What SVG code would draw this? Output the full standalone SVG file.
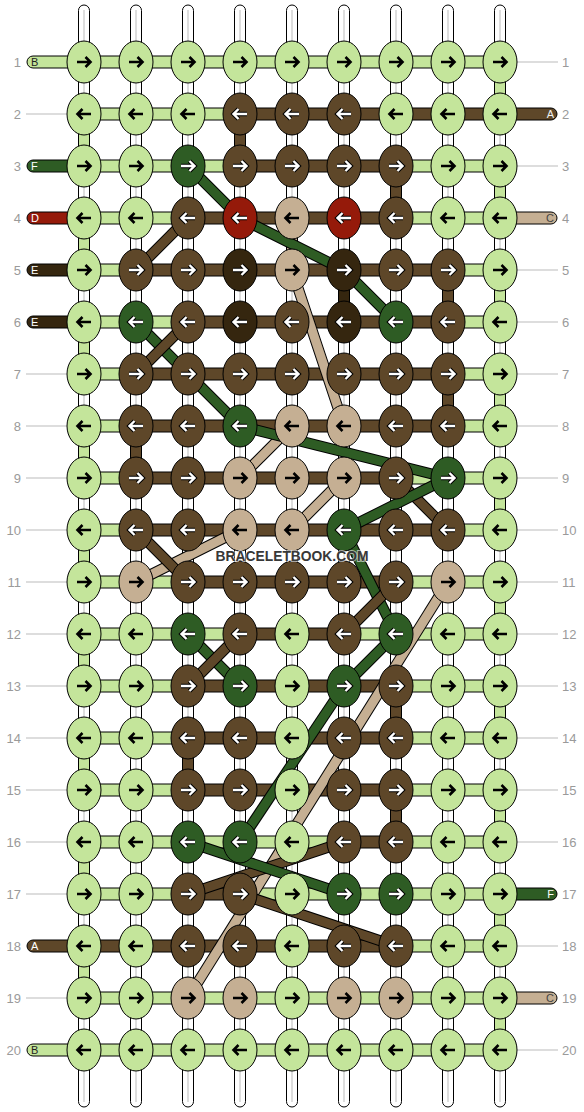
<svg xmlns="http://www.w3.org/2000/svg" width="584" height="1112" viewBox="0 0 584 1112">
<style>
.g{fill:#c4e59b}.f{fill:#2e5c24}.a{fill:#5e4729}.e{fill:#35260f}.d{fill:#951a0a}.t{fill:#c5af93}.w{fill:#fff}
.cn{stroke:#000;stroke-width:1}
.gl{stroke:#bbb;stroke-width:1;fill:none}
.dl{fill:none;stroke:#000;stroke-width:11}
.df{fill:none;stroke:#2e5c24;stroke-width:9}
.da{fill:none;stroke:#5e4729;stroke-width:9}
.dt{fill:none;stroke:#c5af93;stroke-width:9}
.num{font-family:'Liberation Sans',Arial,sans-serif;font-size:13px;fill:#9a9a9a}
.sl{font-family:'Liberation Sans',Arial,sans-serif;font-size:11px}
.wm{font-family:'Liberation Sans',Arial,sans-serif;font-size:14.5px;font-weight:bold;fill:#383838;stroke:#fff;stroke-width:2;stroke-opacity:.6;paint-order:stroke}
</style>
<defs>
<ellipse id="kn" cx="0" cy="0" rx="17" ry="21" stroke="#000" stroke-width="1"/>
<path id="pr" d="M-7 0H6M1.5-5L6.5 0L1.5 5"/>
<path id="pl" d="M7 0H-6M-1.5-5L-6.5 0L-1.5 5"/>
<g id="rb"><use href="#pr" fill="none" stroke="#000" stroke-width="2.6"/></g>
<g id="lb"><use href="#pl" fill="none" stroke="#000" stroke-width="2.6"/></g>
<g id="rw"><use href="#pr" fill="none" stroke="#000" stroke-width="4.4"/><use href="#pr" fill="none" stroke="#fff" stroke-width="2.4"/></g>
<g id="lw"><use href="#pl" fill="none" stroke="#000" stroke-width="4.4"/><use href="#pl" fill="none" stroke="#fff" stroke-width="2.4"/></g>
</defs>
<rect width="584" height="1112" fill="#fff"/>
<g id="strings">
<rect class="w cn" x="78.5" y="5" width="11" height="1102" rx="5.5"/><line class="gl" x1="84" y1="10" x2="84" y2="1102"/>
<rect class="w cn" x="130.5" y="5" width="11" height="1102" rx="5.5"/><line class="gl" x1="136" y1="10" x2="136" y2="1102"/>
<rect class="w cn" x="182.5" y="5" width="11" height="1102" rx="5.5"/><line class="gl" x1="188" y1="10" x2="188" y2="1102"/>
<rect class="w cn" x="234.5" y="5" width="11" height="1102" rx="5.5"/><line class="gl" x1="240" y1="10" x2="240" y2="1102"/>
<rect class="w cn" x="286.5" y="5" width="11" height="1102" rx="5.5"/><line class="gl" x1="292" y1="10" x2="292" y2="1102"/>
<rect class="w cn" x="338.5" y="5" width="11" height="1102" rx="5.5"/><line class="gl" x1="344" y1="10" x2="344" y2="1102"/>
<rect class="w cn" x="390.5" y="5" width="11" height="1102" rx="5.5"/><line class="gl" x1="396" y1="10" x2="396" y2="1102"/>
<rect class="w cn" x="442.5" y="5" width="11" height="1102" rx="5.5"/><line class="gl" x1="448" y1="10" x2="448" y2="1102"/>
<rect class="w cn" x="494.5" y="5" width="11" height="1102" rx="5.5"/><line class="gl" x1="500" y1="10" x2="500" y2="1102"/>
</g>
<g id="connectors">
<!-- vertical coloured -->
<rect class="g cn" x="78.5" y="114" width="11" height="52"/>
<rect class="g cn" x="78.5" y="218" width="11" height="52"/>
<rect class="g cn" x="78.5" y="322" width="11" height="52"/>
<rect class="g cn" x="78.5" y="426" width="11" height="52"/>
<rect class="g cn" x="78.5" y="530" width="11" height="52"/>
<rect class="g cn" x="78.5" y="634" width="11" height="52"/>
<rect class="g cn" x="78.5" y="738" width="11" height="52"/>
<rect class="g cn" x="78.5" y="842" width="11" height="52"/>
<rect class="g cn" x="78.5" y="946" width="11" height="52"/>
<rect class="g cn" x="494.5" y="62" width="11" height="52"/>
<rect class="g cn" x="494.5" y="166" width="11" height="52"/>
<rect class="g cn" x="494.5" y="270" width="11" height="52"/>
<rect class="g cn" x="494.5" y="374" width="11" height="52"/>
<rect class="g cn" x="494.5" y="478" width="11" height="52"/>
<rect class="g cn" x="494.5" y="582" width="11" height="52"/>
<rect class="g cn" x="494.5" y="686" width="11" height="52"/>
<rect class="g cn" x="494.5" y="790" width="11" height="52"/>
<rect class="g cn" x="494.5" y="894" width="11" height="52"/>
<rect class="g cn" x="494.5" y="998" width="11" height="52"/>
<rect class="a cn" x="234.5" y="114" width="11" height="52"/>
<rect class="a cn" x="390.5" y="166" width="11" height="52"/>
<rect class="t cn" x="286.5" y="218" width="11" height="52"/>
<rect class="e cn" x="338.5" y="270" width="11" height="52"/>
<rect class="a cn" x="442.5" y="270" width="11" height="52"/>
<rect class="a cn" x="442.5" y="374" width="11" height="52"/>
<rect class="a cn" x="130.5" y="426" width="11" height="52"/>
<rect class="a cn" x="390.5" y="686" width="11" height="52"/>
<rect class="a cn" x="182.5" y="738" width="11" height="52"/>
<rect class="a cn" x="390.5" y="790" width="11" height="52"/>
<!-- horizontal -->
<rect class="g cn" x="84" y="56" width="416" height="12"/>
<rect class="g cn" x="84" y="108" width="156" height="12"/><rect class="a cn" x="240" y="108" width="260" height="12"/>
<rect class="g cn" x="84" y="160" width="156" height="12"/><rect class="a cn" x="240" y="160" width="156" height="12"/><rect class="g cn" x="396" y="160" width="104" height="12"/>
<rect class="g cn" x="84" y="212" width="104" height="12"/><rect class="a cn" x="188" y="212" width="208" height="12"/><rect class="g cn" x="396" y="212" width="104" height="12"/>
<rect class="g cn" x="84" y="264" width="52" height="12"/><rect class="a cn" x="136" y="264" width="312" height="12"/><rect class="g cn" x="448" y="264" width="52" height="12"/>
<rect class="g cn" x="84" y="316" width="104" height="12"/><rect class="a cn" x="188" y="316" width="260" height="12"/><rect class="g cn" x="448" y="316" width="52" height="12"/>
<rect class="g cn" x="84" y="368" width="52" height="12"/><rect class="a cn" x="136" y="368" width="312" height="12"/><rect class="g cn" x="448" y="368" width="52" height="12"/>
<rect class="g cn" x="84" y="420" width="52" height="12"/><rect class="a cn" x="136" y="420" width="312" height="12"/><rect class="g cn" x="448" y="420" width="52" height="12"/>
<rect class="g cn" x="84" y="472" width="52" height="12"/><rect class="a cn" x="136" y="472" width="260" height="12"/><rect class="g cn" x="396" y="472" width="104" height="12"/>
<rect class="g cn" x="84" y="524" width="52" height="12"/><rect class="a cn" x="136" y="524" width="312" height="12"/><rect class="g cn" x="448" y="524" width="52" height="12"/>
<rect class="g cn" x="84" y="576" width="104" height="12"/><rect class="a cn" x="188" y="576" width="208" height="12"/><rect class="g cn" x="396" y="576" width="104" height="12"/>
<rect class="g cn" x="84" y="628" width="156" height="12"/><rect class="a cn" x="240" y="628" width="104" height="12"/><rect class="g cn" x="344" y="628" width="156" height="12"/>
<rect class="g cn" x="84" y="680" width="104" height="12"/><rect class="a cn" x="188" y="680" width="208" height="12"/><rect class="g cn" x="396" y="680" width="104" height="12"/>
<rect class="g cn" x="84" y="732" width="104" height="12"/><rect class="a cn" x="188" y="732" width="208" height="12"/><rect class="g cn" x="396" y="732" width="104" height="12"/>
<rect class="g cn" x="84" y="784" width="104" height="12"/><rect class="a cn" x="188" y="784" width="208" height="12"/><rect class="g cn" x="396" y="784" width="104" height="12"/>
<rect class="g cn" x="84" y="836" width="260" height="12"/><rect class="a cn" x="344" y="836" width="52" height="12"/><rect class="g cn" x="396" y="836" width="104" height="12"/>
<rect class="g cn" x="84" y="888" width="104" height="12"/><rect class="a cn" x="188" y="888" width="52" height="12"/><rect class="g cn" x="240" y="888" width="260" height="12"/>
<rect class="a cn" x="84" y="940" width="312" height="12"/><rect class="g cn" x="396" y="940" width="104" height="12"/>
<rect class="g cn" x="84" y="992" width="416" height="12"/>
<rect class="g cn" x="84" y="1044" width="416" height="12"/>
<!-- stubs -->
<rect class="g cn" x="27" y="56" width="60" height="12" rx="6"/>
<rect class="f cn" x="27" y="160" width="60" height="12" rx="6"/>
<rect class="d cn" x="27" y="212" width="60" height="12" rx="6"/>
<rect class="e cn" x="27" y="264" width="60" height="12" rx="6"/>
<rect class="e cn" x="27" y="316" width="60" height="12" rx="6"/>
<rect class="a cn" x="27" y="940" width="60" height="12" rx="6"/>
<rect class="g cn" x="27" y="1044" width="60" height="12" rx="6"/>
<rect class="a cn" x="497" y="108" width="60" height="12" rx="6"/>
<rect class="t cn" x="497" y="212" width="60" height="12" rx="6"/>
<rect class="f cn" x="497" y="888" width="60" height="12" rx="6"/>
<rect class="t cn" x="497" y="992" width="60" height="12" rx="6"/>
<!-- diagonals -->
<path class="dl" d="M448 582L188 998"/><path class="dt" d="M448 582L188 998"/>
<path class="dl" d="M292 270L344 426"/><path class="dt" d="M292 270L344 426"/>
<path class="dl" d="M292 426L240 478"/><path class="dt" d="M292 426L240 478"/>
<path class="dl" d="M344 478L292 530"/><path class="dt" d="M344 478L292 530"/>
<path class="dl" d="M240 530L136 582"/><path class="dt" d="M240 530L136 582"/>
<path class="dl" d="M188 218L136 270"/><path class="da" d="M188 218L136 270"/>
<path class="dl" d="M188 166L240 218L344 270L396 322"/><path class="df" d="M188 166L240 218L344 270L396 322"/>
<path class="dl" d="M136 322L240 426"/><path class="df" d="M136 322L240 426"/>
<path class="dl" d="M188 322L136 374"/><path class="da" d="M188 322L136 374"/>
<path class="dl" d="M240 426L448 478"/><path class="df" d="M240 426L448 478"/>
<path class="dl" d="M396 478L448 530"/><path class="da" d="M396 478L448 530"/>
<path class="dl" d="M448 478L344 530"/><path class="df" d="M448 478L344 530"/>
<path class="dl" d="M136 530L188 582"/><path class="da" d="M136 530L188 582"/>
<path class="dl" d="M344 530L396 634"/><path class="df" d="M344 530L396 634"/>
<path class="dl" d="M396 582L344 634"/><path class="da" d="M396 582L344 634"/>
<path class="dl" d="M396 634L344 686"/><path class="df" d="M396 634L344 686"/>
<path class="dl" d="M188 634L240 686"/><path class="df" d="M188 634L240 686"/>
<path class="dl" d="M240 634L188 686"/><path class="da" d="M240 634L188 686"/>
<path class="dl" d="M344 686L240 842"/><path class="df" d="M344 686L240 842"/>
<path class="dl" d="M188 894L344 842"/><path class="da" d="M188 894L344 842"/>
<path class="dl" d="M188 842L344 894"/><path class="df" d="M188 842L344 894"/>
<path class="dl" d="M240 894L396 946"/><path class="da" d="M240 894L396 946"/>
</g>
<g id="labels">
<line class="gl" x1="26" y1="114" x2="67" y2="114"/><line class="gl" x1="26" y1="374" x2="67" y2="374"/><line class="gl" x1="26" y1="426" x2="67" y2="426"/><line class="gl" x1="26" y1="478" x2="67" y2="478"/><line class="gl" x1="26" y1="530" x2="67" y2="530"/><line class="gl" x1="26" y1="582" x2="67" y2="582"/><line class="gl" x1="26" y1="634" x2="67" y2="634"/><line class="gl" x1="26" y1="686" x2="67" y2="686"/><line class="gl" x1="26" y1="738" x2="67" y2="738"/><line class="gl" x1="26" y1="790" x2="67" y2="790"/><line class="gl" x1="26" y1="842" x2="67" y2="842"/><line class="gl" x1="26" y1="894" x2="67" y2="894"/><line class="gl" x1="26" y1="998" x2="67" y2="998"/>
<line class="gl" x1="517" y1="62" x2="558" y2="62"/><line class="gl" x1="517" y1="166" x2="558" y2="166"/><line class="gl" x1="517" y1="270" x2="558" y2="270"/><line class="gl" x1="517" y1="322" x2="558" y2="322"/><line class="gl" x1="517" y1="374" x2="558" y2="374"/><line class="gl" x1="517" y1="426" x2="558" y2="426"/><line class="gl" x1="517" y1="478" x2="558" y2="478"/><line class="gl" x1="517" y1="530" x2="558" y2="530"/><line class="gl" x1="517" y1="582" x2="558" y2="582"/><line class="gl" x1="517" y1="634" x2="558" y2="634"/><line class="gl" x1="517" y1="686" x2="558" y2="686"/><line class="gl" x1="517" y1="738" x2="558" y2="738"/><line class="gl" x1="517" y1="790" x2="558" y2="790"/><line class="gl" x1="517" y1="842" x2="558" y2="842"/><line class="gl" x1="517" y1="946" x2="558" y2="946"/><line class="gl" x1="517" y1="1050" x2="558" y2="1050"/>
<text class="sl" x="31" y="66" fill="#222">B</text>
<text class="sl" x="31" y="170" fill="#fff">F</text>
<text class="sl" x="31" y="222" fill="#fff">D</text>
<text class="sl" x="31" y="274" fill="#fff">E</text>
<text class="sl" x="31" y="326" fill="#fff">E</text>
<text class="sl" x="31" y="950" fill="#fff">A</text>
<text class="sl" x="31" y="1054" fill="#222">B</text>
<text class="sl" x="554" y="118" fill="#eee" text-anchor="end">A</text>
<text class="sl" x="554" y="222" fill="#444" text-anchor="end">C</text>
<text class="sl" x="554" y="898" fill="#fff" text-anchor="end">F</text>
<text class="sl" x="554" y="1002" fill="#444" text-anchor="end">C</text>
<g class="num" text-anchor="end">
<text x="21" y="67">1</text><text x="21" y="119">2</text><text x="21" y="171">3</text><text x="21" y="223">4</text><text x="21" y="275">5</text><text x="21" y="327">6</text><text x="21" y="379">7</text><text x="21" y="431">8</text><text x="21" y="483">9</text><text x="21" y="535">10</text><text x="21" y="587">11</text><text x="21" y="639">12</text><text x="21" y="691">13</text><text x="21" y="743">14</text><text x="21" y="795">15</text><text x="21" y="847">16</text><text x="21" y="899">17</text><text x="21" y="951">18</text><text x="21" y="1003">19</text><text x="21" y="1055">20</text>
</g>
<g class="num">
<text x="562" y="67">1</text><text x="562" y="119">2</text><text x="562" y="171">3</text><text x="562" y="223">4</text><text x="562" y="275">5</text><text x="562" y="327">6</text><text x="562" y="379">7</text><text x="562" y="431">8</text><text x="562" y="483">9</text><text x="562" y="535">10</text><text x="562" y="587">11</text><text x="562" y="639">12</text><text x="562" y="691">13</text><text x="562" y="743">14</text><text x="562" y="795">15</text><text x="562" y="847">16</text><text x="562" y="899">17</text><text x="562" y="951">18</text><text x="562" y="1003">19</text><text x="562" y="1055">20</text>
</g>
</g>
<g id="knots">
<g id="k1-1"><use href="#kn" class="g" x="84" y="62"/><use href="#rb" x="84" y="62"/></g>
<g id="k1-2"><use href="#kn" class="g" x="136" y="62"/><use href="#rb" x="136" y="62"/></g>
<g id="k1-3"><use href="#kn" class="g" x="188" y="62"/><use href="#rb" x="188" y="62"/></g>
<g id="k1-4"><use href="#kn" class="g" x="240" y="62"/><use href="#rb" x="240" y="62"/></g>
<g id="k1-5"><use href="#kn" class="g" x="292" y="62"/><use href="#rb" x="292" y="62"/></g>
<g id="k1-6"><use href="#kn" class="g" x="344" y="62"/><use href="#rb" x="344" y="62"/></g>
<g id="k1-7"><use href="#kn" class="g" x="396" y="62"/><use href="#rb" x="396" y="62"/></g>
<g id="k1-8"><use href="#kn" class="g" x="448" y="62"/><use href="#rb" x="448" y="62"/></g>
<g id="k1-9"><use href="#kn" class="g" x="500" y="62"/><use href="#rb" x="500" y="62"/></g>
<g id="k2-1"><use href="#kn" class="g" x="84" y="114"/><use href="#lb" x="84" y="114"/></g>
<g id="k2-2"><use href="#kn" class="g" x="136" y="114"/><use href="#lb" x="136" y="114"/></g>
<g id="k2-3"><use href="#kn" class="g" x="188" y="114"/><use href="#lb" x="188" y="114"/></g>
<g id="k2-4"><use href="#kn" class="a" x="240" y="114"/><use href="#lw" x="240" y="114"/></g>
<g id="k2-5"><use href="#kn" class="a" x="292" y="114"/><use href="#lw" x="292" y="114"/></g>
<g id="k2-6"><use href="#kn" class="a" x="344" y="114"/><use href="#lw" x="344" y="114"/></g>
<g id="k2-7"><use href="#kn" class="g" x="396" y="114"/><use href="#lb" x="396" y="114"/></g>
<g id="k2-8"><use href="#kn" class="g" x="448" y="114"/><use href="#lb" x="448" y="114"/></g>
<g id="k2-9"><use href="#kn" class="g" x="500" y="114"/><use href="#lb" x="500" y="114"/></g>
<g id="k3-1"><use href="#kn" class="g" x="84" y="166"/><use href="#rb" x="84" y="166"/></g>
<g id="k3-2"><use href="#kn" class="g" x="136" y="166"/><use href="#rb" x="136" y="166"/></g>
<g id="k3-3"><use href="#kn" class="f" x="188" y="166"/><use href="#rw" x="188" y="166"/></g>
<g id="k3-4"><use href="#kn" class="a" x="240" y="166"/><use href="#rw" x="240" y="166"/></g>
<g id="k3-5"><use href="#kn" class="a" x="292" y="166"/><use href="#rw" x="292" y="166"/></g>
<g id="k3-6"><use href="#kn" class="a" x="344" y="166"/><use href="#rw" x="344" y="166"/></g>
<g id="k3-7"><use href="#kn" class="a" x="396" y="166"/><use href="#rw" x="396" y="166"/></g>
<g id="k3-8"><use href="#kn" class="g" x="448" y="166"/><use href="#rb" x="448" y="166"/></g>
<g id="k3-9"><use href="#kn" class="g" x="500" y="166"/><use href="#rb" x="500" y="166"/></g>
<g id="k4-1"><use href="#kn" class="g" x="84" y="218"/><use href="#lb" x="84" y="218"/></g>
<g id="k4-2"><use href="#kn" class="g" x="136" y="218"/><use href="#lb" x="136" y="218"/></g>
<g id="k4-3"><use href="#kn" class="a" x="188" y="218"/><use href="#lw" x="188" y="218"/></g>
<g id="k4-4"><use href="#kn" class="d" x="240" y="218"/><use href="#lw" x="240" y="218"/></g>
<g id="k4-5"><use href="#kn" class="t" x="292" y="218"/><use href="#lb" x="292" y="218"/></g>
<g id="k4-6"><use href="#kn" class="d" x="344" y="218"/><use href="#lw" x="344" y="218"/></g>
<g id="k4-7"><use href="#kn" class="a" x="396" y="218"/><use href="#lw" x="396" y="218"/></g>
<g id="k4-8"><use href="#kn" class="g" x="448" y="218"/><use href="#lb" x="448" y="218"/></g>
<g id="k4-9"><use href="#kn" class="g" x="500" y="218"/><use href="#lb" x="500" y="218"/></g>
<g id="k5-1"><use href="#kn" class="g" x="84" y="270"/><use href="#rb" x="84" y="270"/></g>
<g id="k5-2"><use href="#kn" class="a" x="136" y="270"/><use href="#rw" x="136" y="270"/></g>
<g id="k5-3"><use href="#kn" class="a" x="188" y="270"/><use href="#rw" x="188" y="270"/></g>
<g id="k5-4"><use href="#kn" class="e" x="240" y="270"/><use href="#rw" x="240" y="270"/></g>
<g id="k5-5"><use href="#kn" class="t" x="292" y="270"/><use href="#rb" x="292" y="270"/></g>
<g id="k5-6"><use href="#kn" class="e" x="344" y="270"/><use href="#rw" x="344" y="270"/></g>
<g id="k5-7"><use href="#kn" class="a" x="396" y="270"/><use href="#rw" x="396" y="270"/></g>
<g id="k5-8"><use href="#kn" class="a" x="448" y="270"/><use href="#rw" x="448" y="270"/></g>
<g id="k5-9"><use href="#kn" class="g" x="500" y="270"/><use href="#rb" x="500" y="270"/></g>
<g id="k6-1"><use href="#kn" class="g" x="84" y="322"/><use href="#lb" x="84" y="322"/></g>
<g id="k6-2"><use href="#kn" class="f" x="136" y="322"/><use href="#lw" x="136" y="322"/></g>
<g id="k6-3"><use href="#kn" class="a" x="188" y="322"/><use href="#lw" x="188" y="322"/></g>
<g id="k6-4"><use href="#kn" class="e" x="240" y="322"/><use href="#lw" x="240" y="322"/></g>
<g id="k6-5"><use href="#kn" class="a" x="292" y="322"/><use href="#lw" x="292" y="322"/></g>
<g id="k6-6"><use href="#kn" class="e" x="344" y="322"/><use href="#lw" x="344" y="322"/></g>
<g id="k6-7"><use href="#kn" class="f" x="396" y="322"/><use href="#lw" x="396" y="322"/></g>
<g id="k6-8"><use href="#kn" class="a" x="448" y="322"/><use href="#lw" x="448" y="322"/></g>
<g id="k6-9"><use href="#kn" class="g" x="500" y="322"/><use href="#lb" x="500" y="322"/></g>
<g id="k7-1"><use href="#kn" class="g" x="84" y="374"/><use href="#rb" x="84" y="374"/></g>
<g id="k7-2"><use href="#kn" class="a" x="136" y="374"/><use href="#rw" x="136" y="374"/></g>
<g id="k7-3"><use href="#kn" class="a" x="188" y="374"/><use href="#rw" x="188" y="374"/></g>
<g id="k7-4"><use href="#kn" class="a" x="240" y="374"/><use href="#rw" x="240" y="374"/></g>
<g id="k7-5"><use href="#kn" class="a" x="292" y="374"/><use href="#rw" x="292" y="374"/></g>
<g id="k7-6"><use href="#kn" class="a" x="344" y="374"/><use href="#rw" x="344" y="374"/></g>
<g id="k7-7"><use href="#kn" class="a" x="396" y="374"/><use href="#rw" x="396" y="374"/></g>
<g id="k7-8"><use href="#kn" class="a" x="448" y="374"/><use href="#rw" x="448" y="374"/></g>
<g id="k7-9"><use href="#kn" class="g" x="500" y="374"/><use href="#rb" x="500" y="374"/></g>
<g id="k8-1"><use href="#kn" class="g" x="84" y="426"/><use href="#lb" x="84" y="426"/></g>
<g id="k8-2"><use href="#kn" class="a" x="136" y="426"/><use href="#lw" x="136" y="426"/></g>
<g id="k8-3"><use href="#kn" class="a" x="188" y="426"/><use href="#lw" x="188" y="426"/></g>
<g id="k8-4"><use href="#kn" class="f" x="240" y="426"/><use href="#lw" x="240" y="426"/></g>
<g id="k8-5"><use href="#kn" class="t" x="292" y="426"/><use href="#lb" x="292" y="426"/></g>
<g id="k8-6"><use href="#kn" class="t" x="344" y="426"/><use href="#lb" x="344" y="426"/></g>
<g id="k8-7"><use href="#kn" class="a" x="396" y="426"/><use href="#lw" x="396" y="426"/></g>
<g id="k8-8"><use href="#kn" class="a" x="448" y="426"/><use href="#lw" x="448" y="426"/></g>
<g id="k8-9"><use href="#kn" class="g" x="500" y="426"/><use href="#lb" x="500" y="426"/></g>
<g id="k9-1"><use href="#kn" class="g" x="84" y="478"/><use href="#rb" x="84" y="478"/></g>
<g id="k9-2"><use href="#kn" class="a" x="136" y="478"/><use href="#rw" x="136" y="478"/></g>
<g id="k9-3"><use href="#kn" class="a" x="188" y="478"/><use href="#rw" x="188" y="478"/></g>
<g id="k9-4"><use href="#kn" class="t" x="240" y="478"/><use href="#rb" x="240" y="478"/></g>
<g id="k9-5"><use href="#kn" class="t" x="292" y="478"/><use href="#rb" x="292" y="478"/></g>
<g id="k9-6"><use href="#kn" class="t" x="344" y="478"/><use href="#rb" x="344" y="478"/></g>
<g id="k9-7"><use href="#kn" class="a" x="396" y="478"/><use href="#rw" x="396" y="478"/></g>
<g id="k9-8"><use href="#kn" class="f" x="448" y="478"/><use href="#rw" x="448" y="478"/></g>
<g id="k9-9"><use href="#kn" class="g" x="500" y="478"/><use href="#rb" x="500" y="478"/></g>
<g id="k10-1"><use href="#kn" class="g" x="84" y="530"/><use href="#lb" x="84" y="530"/></g>
<g id="k10-2"><use href="#kn" class="a" x="136" y="530"/><use href="#lw" x="136" y="530"/></g>
<g id="k10-3"><use href="#kn" class="a" x="188" y="530"/><use href="#lw" x="188" y="530"/></g>
<g id="k10-4"><use href="#kn" class="t" x="240" y="530"/><use href="#lb" x="240" y="530"/></g>
<g id="k10-5"><use href="#kn" class="t" x="292" y="530"/><use href="#lb" x="292" y="530"/></g>
<g id="k10-6"><use href="#kn" class="f" x="344" y="530"/><use href="#lw" x="344" y="530"/></g>
<g id="k10-7"><use href="#kn" class="a" x="396" y="530"/><use href="#lw" x="396" y="530"/></g>
<g id="k10-8"><use href="#kn" class="a" x="448" y="530"/><use href="#lw" x="448" y="530"/></g>
<g id="k10-9"><use href="#kn" class="g" x="500" y="530"/><use href="#lb" x="500" y="530"/></g>
<g id="k11-1"><use href="#kn" class="g" x="84" y="582"/><use href="#rb" x="84" y="582"/></g>
<g id="k11-2"><use href="#kn" class="t" x="136" y="582"/><use href="#rb" x="136" y="582"/></g>
<g id="k11-3"><use href="#kn" class="a" x="188" y="582"/><use href="#rw" x="188" y="582"/></g>
<g id="k11-4"><use href="#kn" class="a" x="240" y="582"/><use href="#rw" x="240" y="582"/></g>
<g id="k11-5"><use href="#kn" class="a" x="292" y="582"/><use href="#rw" x="292" y="582"/></g>
<g id="k11-6"><use href="#kn" class="a" x="344" y="582"/><use href="#rw" x="344" y="582"/></g>
<g id="k11-7"><use href="#kn" class="a" x="396" y="582"/><use href="#rw" x="396" y="582"/></g>
<g id="k11-8"><use href="#kn" class="t" x="448" y="582"/><use href="#rb" x="448" y="582"/></g>
<g id="k11-9"><use href="#kn" class="g" x="500" y="582"/><use href="#rb" x="500" y="582"/></g>
<g id="k12-1"><use href="#kn" class="g" x="84" y="634"/><use href="#lb" x="84" y="634"/></g>
<g id="k12-2"><use href="#kn" class="g" x="136" y="634"/><use href="#lb" x="136" y="634"/></g>
<g id="k12-3"><use href="#kn" class="f" x="188" y="634"/><use href="#lw" x="188" y="634"/></g>
<g id="k12-4"><use href="#kn" class="a" x="240" y="634"/><use href="#lw" x="240" y="634"/></g>
<g id="k12-5"><use href="#kn" class="g" x="292" y="634"/><use href="#lb" x="292" y="634"/></g>
<g id="k12-6"><use href="#kn" class="a" x="344" y="634"/><use href="#lw" x="344" y="634"/></g>
<g id="k12-7"><use href="#kn" class="f" x="396" y="634"/><use href="#lw" x="396" y="634"/></g>
<g id="k12-8"><use href="#kn" class="g" x="448" y="634"/><use href="#lb" x="448" y="634"/></g>
<g id="k12-9"><use href="#kn" class="g" x="500" y="634"/><use href="#lb" x="500" y="634"/></g>
<g id="k13-1"><use href="#kn" class="g" x="84" y="686"/><use href="#rb" x="84" y="686"/></g>
<g id="k13-2"><use href="#kn" class="g" x="136" y="686"/><use href="#rb" x="136" y="686"/></g>
<g id="k13-3"><use href="#kn" class="a" x="188" y="686"/><use href="#rw" x="188" y="686"/></g>
<g id="k13-4"><use href="#kn" class="f" x="240" y="686"/><use href="#rw" x="240" y="686"/></g>
<g id="k13-5"><use href="#kn" class="g" x="292" y="686"/><use href="#rb" x="292" y="686"/></g>
<g id="k13-6"><use href="#kn" class="f" x="344" y="686"/><use href="#rw" x="344" y="686"/></g>
<g id="k13-7"><use href="#kn" class="a" x="396" y="686"/><use href="#rw" x="396" y="686"/></g>
<g id="k13-8"><use href="#kn" class="g" x="448" y="686"/><use href="#rb" x="448" y="686"/></g>
<g id="k13-9"><use href="#kn" class="g" x="500" y="686"/><use href="#rb" x="500" y="686"/></g>
<g id="k14-1"><use href="#kn" class="g" x="84" y="738"/><use href="#lb" x="84" y="738"/></g>
<g id="k14-2"><use href="#kn" class="g" x="136" y="738"/><use href="#lb" x="136" y="738"/></g>
<g id="k14-3"><use href="#kn" class="a" x="188" y="738"/><use href="#lw" x="188" y="738"/></g>
<g id="k14-4"><use href="#kn" class="a" x="240" y="738"/><use href="#lw" x="240" y="738"/></g>
<g id="k14-5"><use href="#kn" class="g" x="292" y="738"/><use href="#lb" x="292" y="738"/></g>
<g id="k14-6"><use href="#kn" class="a" x="344" y="738"/><use href="#lw" x="344" y="738"/></g>
<g id="k14-7"><use href="#kn" class="a" x="396" y="738"/><use href="#lw" x="396" y="738"/></g>
<g id="k14-8"><use href="#kn" class="g" x="448" y="738"/><use href="#lb" x="448" y="738"/></g>
<g id="k14-9"><use href="#kn" class="g" x="500" y="738"/><use href="#lb" x="500" y="738"/></g>
<g id="k15-1"><use href="#kn" class="g" x="84" y="790"/><use href="#rb" x="84" y="790"/></g>
<g id="k15-2"><use href="#kn" class="g" x="136" y="790"/><use href="#rb" x="136" y="790"/></g>
<g id="k15-3"><use href="#kn" class="a" x="188" y="790"/><use href="#rw" x="188" y="790"/></g>
<g id="k15-4"><use href="#kn" class="a" x="240" y="790"/><use href="#rw" x="240" y="790"/></g>
<g id="k15-5"><use href="#kn" class="g" x="292" y="790"/><use href="#rb" x="292" y="790"/></g>
<g id="k15-6"><use href="#kn" class="a" x="344" y="790"/><use href="#rw" x="344" y="790"/></g>
<g id="k15-7"><use href="#kn" class="a" x="396" y="790"/><use href="#rw" x="396" y="790"/></g>
<g id="k15-8"><use href="#kn" class="g" x="448" y="790"/><use href="#rb" x="448" y="790"/></g>
<g id="k15-9"><use href="#kn" class="g" x="500" y="790"/><use href="#rb" x="500" y="790"/></g>
<g id="k16-1"><use href="#kn" class="g" x="84" y="842"/><use href="#lb" x="84" y="842"/></g>
<g id="k16-2"><use href="#kn" class="g" x="136" y="842"/><use href="#lb" x="136" y="842"/></g>
<g id="k16-3"><use href="#kn" class="f" x="188" y="842"/><use href="#lw" x="188" y="842"/></g>
<g id="k16-4"><use href="#kn" class="f" x="240" y="842"/><use href="#lw" x="240" y="842"/></g>
<g id="k16-5"><use href="#kn" class="g" x="292" y="842"/><use href="#lb" x="292" y="842"/></g>
<g id="k16-6"><use href="#kn" class="a" x="344" y="842"/><use href="#lw" x="344" y="842"/></g>
<g id="k16-7"><use href="#kn" class="a" x="396" y="842"/><use href="#lw" x="396" y="842"/></g>
<g id="k16-8"><use href="#kn" class="g" x="448" y="842"/><use href="#lb" x="448" y="842"/></g>
<g id="k16-9"><use href="#kn" class="g" x="500" y="842"/><use href="#lb" x="500" y="842"/></g>
<g id="k17-1"><use href="#kn" class="g" x="84" y="894"/><use href="#rb" x="84" y="894"/></g>
<g id="k17-2"><use href="#kn" class="g" x="136" y="894"/><use href="#rb" x="136" y="894"/></g>
<g id="k17-3"><use href="#kn" class="a" x="188" y="894"/><use href="#rw" x="188" y="894"/></g>
<g id="k17-4"><use href="#kn" class="a" x="240" y="894"/><use href="#rw" x="240" y="894"/></g>
<g id="k17-5"><use href="#kn" class="g" x="292" y="894"/><use href="#rb" x="292" y="894"/></g>
<g id="k17-6"><use href="#kn" class="f" x="344" y="894"/><use href="#rw" x="344" y="894"/></g>
<g id="k17-7"><use href="#kn" class="f" x="396" y="894"/><use href="#rw" x="396" y="894"/></g>
<g id="k17-8"><use href="#kn" class="g" x="448" y="894"/><use href="#rb" x="448" y="894"/></g>
<g id="k17-9"><use href="#kn" class="g" x="500" y="894"/><use href="#rb" x="500" y="894"/></g>
<g id="k18-1"><use href="#kn" class="g" x="84" y="946"/><use href="#lb" x="84" y="946"/></g>
<g id="k18-2"><use href="#kn" class="g" x="136" y="946"/><use href="#lb" x="136" y="946"/></g>
<g id="k18-3"><use href="#kn" class="a" x="188" y="946"/><use href="#lw" x="188" y="946"/></g>
<g id="k18-4"><use href="#kn" class="a" x="240" y="946"/><use href="#lw" x="240" y="946"/></g>
<g id="k18-5"><use href="#kn" class="g" x="292" y="946"/><use href="#lb" x="292" y="946"/></g>
<g id="k18-6"><use href="#kn" class="a" x="344" y="946"/><use href="#lw" x="344" y="946"/></g>
<g id="k18-7"><use href="#kn" class="a" x="396" y="946"/><use href="#lw" x="396" y="946"/></g>
<g id="k18-8"><use href="#kn" class="g" x="448" y="946"/><use href="#lb" x="448" y="946"/></g>
<g id="k18-9"><use href="#kn" class="g" x="500" y="946"/><use href="#lb" x="500" y="946"/></g>
<g id="k19-1"><use href="#kn" class="g" x="84" y="998"/><use href="#rb" x="84" y="998"/></g>
<g id="k19-2"><use href="#kn" class="g" x="136" y="998"/><use href="#rb" x="136" y="998"/></g>
<g id="k19-3"><use href="#kn" class="t" x="188" y="998"/><use href="#rb" x="188" y="998"/></g>
<g id="k19-4"><use href="#kn" class="t" x="240" y="998"/><use href="#rb" x="240" y="998"/></g>
<g id="k19-5"><use href="#kn" class="g" x="292" y="998"/><use href="#rb" x="292" y="998"/></g>
<g id="k19-6"><use href="#kn" class="t" x="344" y="998"/><use href="#rb" x="344" y="998"/></g>
<g id="k19-7"><use href="#kn" class="t" x="396" y="998"/><use href="#rb" x="396" y="998"/></g>
<g id="k19-8"><use href="#kn" class="g" x="448" y="998"/><use href="#rb" x="448" y="998"/></g>
<g id="k19-9"><use href="#kn" class="g" x="500" y="998"/><use href="#rb" x="500" y="998"/></g>
<g id="k20-1"><use href="#kn" class="g" x="84" y="1050"/><use href="#lb" x="84" y="1050"/></g>
<g id="k20-2"><use href="#kn" class="g" x="136" y="1050"/><use href="#lb" x="136" y="1050"/></g>
<g id="k20-3"><use href="#kn" class="g" x="188" y="1050"/><use href="#lb" x="188" y="1050"/></g>
<g id="k20-4"><use href="#kn" class="g" x="240" y="1050"/><use href="#lb" x="240" y="1050"/></g>
<g id="k20-5"><use href="#kn" class="g" x="292" y="1050"/><use href="#lb" x="292" y="1050"/></g>
<g id="k20-6"><use href="#kn" class="g" x="344" y="1050"/><use href="#lb" x="344" y="1050"/></g>
<g id="k20-7"><use href="#kn" class="g" x="396" y="1050"/><use href="#lb" x="396" y="1050"/></g>
<g id="k20-8"><use href="#kn" class="g" x="448" y="1050"/><use href="#lb" x="448" y="1050"/></g>
<g id="k20-9"><use href="#kn" class="g" x="500" y="1050"/><use href="#lb" x="500" y="1050"/></g>
</g>
<text class="wm" x="292" y="561" text-anchor="middle" textLength="153" lengthAdjust="spacingAndGlyphs">BRACELETBOOK.COM</text>
</svg>
